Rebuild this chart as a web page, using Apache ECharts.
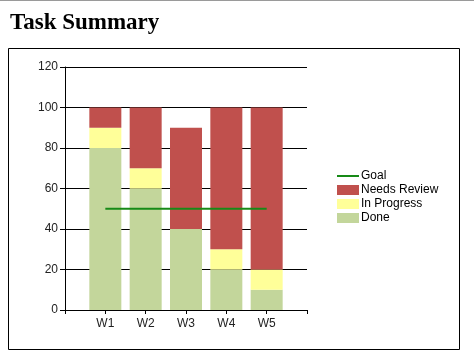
<!DOCTYPE html>
<html><head><meta charset="utf-8">
<script src="https://cdn.jsdelivr.net/npm/echarts@6/dist/echarts.min.js"></script>
<style>html,body{margin:0;padding:0;background:#fff}#c{width:474px;height:363px}</style>
</head><body><div id="c"></div>
<script>
var categories = ['', 'W1', 'W2', 'W3', 'W4', 'W5', ''];
var done = [null, 80, 60, 40, 20, 10, null];
var inProgress = [null, 10, 10, 0, 10, 10, null];
var needsReview = [null, 10, 30, 50, 70, 80, null];
var goal = [null, 50, 50, 50, 50, 50, null];
var yTicks = [0, 20, 40, 60, 80, 100, 120];

var chart = echarts.init(document.getElementById('c'), null, {renderer: 'canvas'});
var font = 'Liberation Sans';
chart.setOption({
  animation: false,
  backgroundColor: '#fff',
  title: {text: 'Task Summary', left: 5, top: 7,
    textStyle: {fontFamily: 'Liberation Serif', fontWeight: 'bold', fontSize: 23, color: '#000'}},
  graphic: [
    {type: 'rect', shape: {x: 0, y: 0, width: 474, height: 1}, style: {fill: '#9a9a9a'}},
    {type: 'rect', shape: {x: 8.5, y: 48.5, width: 451, height: 301}, style: {fill: 'none', stroke: '#000', lineWidth: 1}}
  ],
  legend: {
    orient: 'vertical', left: 332, top: 165, itemWidth: 22, itemHeight: 10, itemGap: 2,
    icon: 'rect',
    data: [{name: 'Goal', icon: 'path://M0,0h22v2h-22z'}, 'Needs Review', 'In Progress', 'Done'],
    textStyle: {fontFamily: font, fontSize: 12, color: '#000', padding: [0,0,0,-3]}
  },
  grid: {left: 65, top: 67, width: 242, height: 243},
  xAxis: {
    type: 'category', data: categories, boundaryGap: false,
    axisLine: {lineStyle: {color: '#000'}},
    axisTick: {length: 4, lineStyle: {color: '#000'}},
    axisLabel: {fontFamily: font, fontSize: 12, color: '#222', margin: 8, interval: 0},
    splitLine: {show: false}
  },
  yAxis: {
    type: 'value', min: yTicks[0], max: yTicks[yTicks.length - 1], interval: 20,
    axisLine: {show: true, lineStyle: {color: '#000'}},
    axisTick: {show: true, length: 5, lineStyle: {color: '#000'}},
    axisLabel: {fontFamily: font, fontSize: 12, color: '#222', margin: 7},
    splitLine: {lineStyle: {color: '#000', width: 1}}
  },
  series: [
    {name: 'Done', type: 'bar', stack: 't', data: done, barWidth: 32, itemStyle: {color: '#C3D69B'}},
    {name: 'In Progress', type: 'bar', stack: 't', data: inProgress, barWidth: 32, itemStyle: {color: '#FFFF99'}},
    {name: 'Needs Review', type: 'bar', stack: 't', data: needsReview, barWidth: 32, itemStyle: {color: '#C0504D'}},
    {name: 'Goal', type: 'line', data: goal, symbol: 'none', lineStyle: {color: '#178A17', width: 2}, itemStyle: {color: '#178A17'}, z: 5}
  ]
});
</script></body></html>
